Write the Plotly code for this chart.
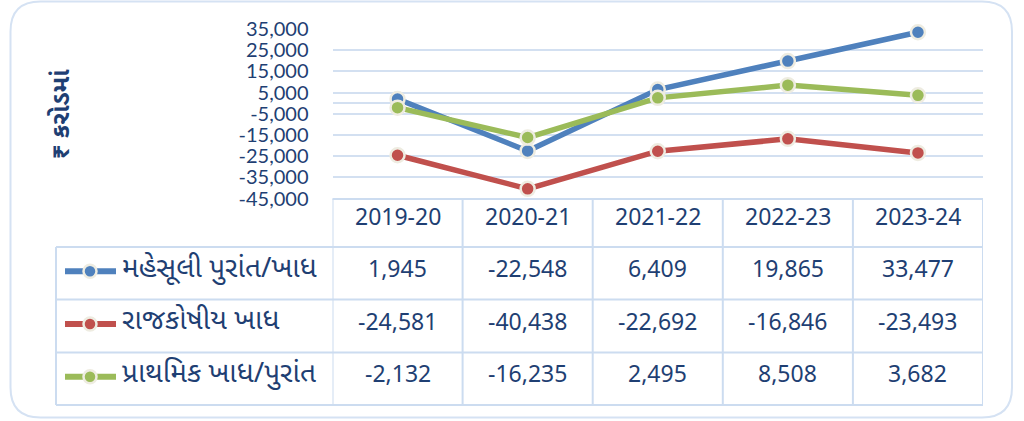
import plotly.graph_objects as go

years = ["2019-20", "2020-21", "2021-22", "2022-23", "2023-24"]
series_names = ["મહેસૂલી પુરાંત/ખાધ", "રાજકોષીય ખાધ", "પ્રાથમિક ખાધ/પુરાંત"]
revenue = [1945, -22548, 6409, 19865, 33477]
fiscal = [-24581, -40438, -22692, -16846, -23493]
primary = [-2132, -16235, 2495, 8508, 3682]
y_ticks = [-45000, -35000, -25000, -15000, -5000, 5000, 15000, 25000, 35000]
y_title = "₹ કરોડમાં"

colors = ["#4F81BD", "#C0504D", "#9BBB59"]
TXT = "#1F3F73"
GRID = "#D3E0F1"
W, H = 1024, 421

def px(x):
    return x / W

def py(y):
    return 1 - y / H

fig = go.Figure()
for name, vals, col in zip(series_names, [revenue, fiscal, primary], colors):
    fig.add_trace(go.Scatter(
        x=years, y=vals, mode="lines+markers", name=name,
        line=dict(color=col, width=5.5),
        marker=dict(size=14, color=col, line=dict(color="#EEECE1", width=2.5)),
        showlegend=False, cliponaxis=False,
    ))

fig.update_layout(
    width=W, height=H, margin=dict(l=0, r=0, t=0, b=0, autoexpand=False),
    paper_bgcolor="white", plot_bgcolor="white",
    xaxis=dict(domain=[px(332.5), px(983)], range=[-0.5, 4.5], visible=False,
               type="category", automargin=False),
    yaxis=dict(domain=[py(198.5), py(29)], range=[-45000, 35000],
               tickvals=y_ticks, ticktext=[f"{v:,}" for v in y_ticks],
               tickfont=dict(family="Lato, Liberation Sans, sans-serif", size=20, color=TXT),
               ticks="", ticklabelstandoff=23, automargin=False,
               showgrid=True, gridcolor=GRID, gridwidth=2,
               zeroline=True, zerolinecolor=GRID, zerolinewidth=2,
               showline=False),
)

shapes = []
x0, x1, y0, y1, r = px(10.5), px(1012), py(417.5), py(1.5), 30
rx, ry = r / W, r / H
path = (f"M {x0+rx},{y1} L {x1-rx},{y1} Q {x1},{y1} {x1},{y1-ry} "
        f"L {x1},{y0+ry} Q {x1},{y0} {x1-rx},{y0} L {x0+rx},{y0} "
        f"Q {x0},{y0} {x0},{y0+ry} L {x0},{y1-ry} Q {x0},{y1} {x0+rx},{y1} Z")
shapes.append(dict(type="path", path=path, xref="paper", yref="paper",
                   line=dict(color="#D5E2F3", width=2)))

rows = [199, 247, 299.5, 352.5, 405]
TL = "#CCDCF0"
shapes.append(dict(type="line", xref="paper", yref="paper", x0=px(332.5), x1=px(983),
                   y0=py(rows[0]), y1=py(rows[0]), line=dict(color=TL, width=2)))
for ry_ in rows[1:]:
    shapes.append(dict(type="line", xref="paper", yref="paper", x0=px(56), x1=px(983),
                       y0=py(ry_), y1=py(ry_), line=dict(color=TL, width=2)))
shapes.append(dict(type="line", xref="paper", yref="paper", x0=px(56), x1=px(56),
                   y0=py(rows[1]), y1=py(rows[-1]), line=dict(color=TL, width=2)))
for i in range(len(years) + 1):
    xv = i - 0.5
    shapes.append(dict(type="line", xref="x", yref="paper", x0=xv, x1=xv,
                       y0=py(rows[0]), y1=py(rows[-1]), line=dict(color=TL, width=2)))

annotations = []
NUMFONT = dict(family="Noto Sans, sans-serif", size=23, color=TXT)
for yr in years:
    annotations.append(dict(x=yr, xref="x", y=py(216), yref="paper", text=yr,
                            showarrow=False, xanchor="center", yanchor="middle",
                            font=NUMFONT))
row_text_y = [268, 321, 373]
for k, (name, vals, col) in enumerate(zip(series_names, [revenue, fiscal, primary], colors)):
    yc = row_text_y[k]
    for yr, v in zip(years, vals):
        annotations.append(dict(x=yr, xref="x", y=py(yc), yref="paper", text=f"{v:,}",
                                showarrow=False, xanchor="center", yanchor="middle",
                                font=NUMFONT))
    annotations.append(dict(x=px(120), xref="paper", y=py(yc + 1), yref="paper", text=name,
                            showarrow=False, xanchor="left", yanchor="middle",
                            font=dict(family="Noto Sans Gujarati, Noto Sans, sans-serif",
                                      size=28, color=TXT)))
    ly = (rows[k + 1] + rows[k + 2]) / 2 - 2
    shapes.append(dict(type="line", xref="paper", yref="paper", x0=px(65), x1=px(116),
                       y0=py(ly), y1=py(ly), line=dict(color=col, width=6)))
    shapes.append(dict(type="circle", xref="paper", yref="paper",
                       x0=px(83.5), x1=px(96.5), y0=py(ly + 6.5), y1=py(ly - 6.5),
                       fillcolor=col, line=dict(color="#EEECE1", width=2.5)))

annotations.append(dict(x=px(63), xref="paper", y=py(114), yref="paper", text=f"<b>{y_title}</b>",
                        textangle=-90, showarrow=False, xanchor="center", yanchor="middle",
                        font=dict(family="Noto Sans Gujarati, Noto Sans, sans-serif",
                                  size=25, color=TXT)))

fig.update_layout(shapes=shapes, annotations=annotations)
fig.write_html("out.html", config={"displayModeBar": False},
               post_script="document.body.style.margin='0';document.body.style.overflow='hidden';")
